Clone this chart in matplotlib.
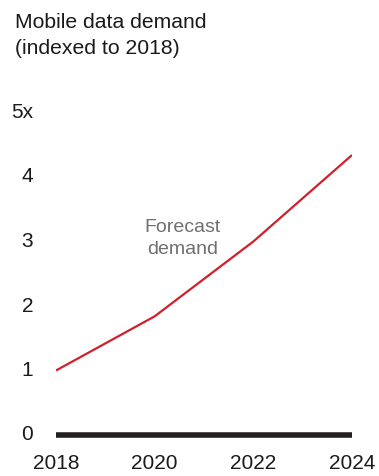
import matplotlib.pyplot as plt
import matplotlib.transforms as mtransforms

plt.rcParams['font.family'] = ['Liberation Sans', 'DejaVu Sans']

years = [2018, 2020, 2022, 2024]
demand = [1.0, 1.84, 3.0, 4.34]

yticks = [0, 1, 2, 3, 4, 5]
ylabels = ['0', '1', '2', '3', '4', '5x']
xticks = [2018, 2020, 2022, 2024]

W, H = 379, 477
fig = plt.figure(figsize=(W / 100, H / 100), dpi=100)
ax = fig.add_axes([56 / W, (H - 436) / H, (352 - 56) / W, (436 - 113.5) / H])

ax.plot(years, demand, color='#d2202a', lw=1.6, solid_capstyle='butt', zorder=3)
ax.plot([2018, 2024], [0, 0], color='#231f20', lw=4, solid_capstyle='butt',
        clip_on=False, zorder=4)

ax.set_xlim(2018, 2024)
ax.set_ylim(0, 5)
for s in ax.spines.values():
    s.set_visible(False)

ax.set_yticks(yticks)
ax.set_yticklabels(ylabels)
ax.set_xticks(xticks)
ax.set_xticklabels([str(x) for x in xticks])
ax.tick_params(axis='both', length=0, labelsize=15, colors='#1a1a1a')
ax.tick_params(axis='y', pad=16.5)
ax.tick_params(axis='x', pad=13)

# nudge y labels up a little
off = mtransforms.ScaledTranslation(0, 3 / 100, fig.dpi_scale_trans)
for lbl in ax.get_yticklabels():
    lbl.set_transform(lbl.get_transform() + off)

ax.text(2020.57, 3.06, 'Forecast\ndemand', ha='center', va='center',
        fontsize=14, color='#707070', linespacing=1.35)

fig.text(15 / W, 1 - 22 / H, 'Mobile data demand', ha='left', va='center',
         fontsize=15.2, color='#1a1a1a')
fig.text(15 / W, 1 - 48 / H, '(indexed to 2018)', ha='left', va='center',
         fontsize=15.2, color='#1a1a1a')

fig.savefig('out.png', dpi=100)
